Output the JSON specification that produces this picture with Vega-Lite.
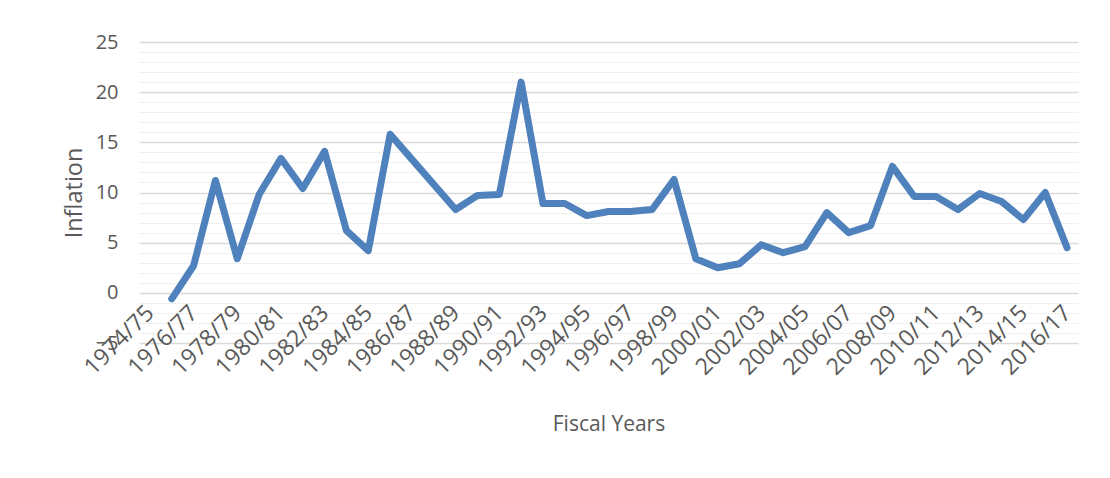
{
  "$schema": "https://vega.github.io/schema/vega-lite/v6.json",
  "width": 939,
  "height": 301,
  "autosize": {"type": "none"},
  "padding": {"left": 139, "top": 42, "right": 32, "bottom": 135},
  "background": "white",
  "config": {
    "view": {"stroke": null},
    "font": "Open Sans"
  },
  "data": {
    "values": [
      {"year": "1975/76", "inflation": -0.6},
      {"year": "1976/77", "inflation": 2.7},
      {"year": "1977/78", "inflation": 11.2},
      {"year": "1978/79", "inflation": 3.4},
      {"year": "1979/80", "inflation": 9.8},
      {"year": "1980/81", "inflation": 13.4},
      {"year": "1981/82", "inflation": 10.4},
      {"year": "1982/83", "inflation": 14.1},
      {"year": "1983/84", "inflation": 6.2},
      {"year": "1984/85", "inflation": 4.2},
      {"year": "1985/86", "inflation": 15.8},
      {"year": "1986/87", "inflation": 13.3},
      {"year": "1987/88", "inflation": 10.8},
      {"year": "1988/89", "inflation": 8.3},
      {"year": "1989/90", "inflation": 9.7},
      {"year": "1990/91", "inflation": 9.8},
      {"year": "1991/92", "inflation": 21.0},
      {"year": "1992/93", "inflation": 8.9},
      {"year": "1993/94", "inflation": 8.9},
      {"year": "1994/95", "inflation": 7.7},
      {"year": "1995/96", "inflation": 8.1},
      {"year": "1996/97", "inflation": 8.1},
      {"year": "1997/98", "inflation": 8.3},
      {"year": "1998/99", "inflation": 11.3},
      {"year": "1999/00", "inflation": 3.4},
      {"year": "2000/01", "inflation": 2.5},
      {"year": "2001/02", "inflation": 2.9},
      {"year": "2002/03", "inflation": 4.8},
      {"year": "2003/04", "inflation": 4.0},
      {"year": "2004/05", "inflation": 4.6},
      {"year": "2005/06", "inflation": 8.0},
      {"year": "2006/07", "inflation": 6.0},
      {"year": "2007/08", "inflation": 6.7},
      {"year": "2008/09", "inflation": 12.6},
      {"year": "2009/10", "inflation": 9.6},
      {"year": "2010/11", "inflation": 9.6},
      {"year": "2011/12", "inflation": 8.3},
      {"year": "2012/13", "inflation": 9.9},
      {"year": "2013/14", "inflation": 9.1},
      {"year": "2014/15", "inflation": 7.3},
      {"year": "2015/16", "inflation": 10.0},
      {"year": "2016/17", "inflation": 4.5}
    ]
  },
  "mark": {"type": "line", "color": "#4F81BD", "strokeWidth": 7, "strokeCap": "round", "strokeJoin": "round"},
  "encoding": {
    "x": {
      "field": "year",
      "type": "ordinal",
      "sort": null,
      "scale": {
        "type": "point",
        "padding": 0.5,
        "domain": ["1974/75","1975/76","1976/77","1977/78","1978/79","1979/80","1980/81","1981/82","1982/83","1983/84","1984/85","1985/86","1986/87","1987/88","1988/89","1989/90","1990/91","1991/92","1992/93","1993/94","1994/95","1995/96","1996/97","1997/98","1998/99","1999/00","2000/01","2001/02","2002/03","2003/04","2004/05","2005/06","2006/07","2007/08","2008/09","2009/10","2010/11","2011/12","2012/13","2013/14","2014/15","2015/16","2016/17"]
      },
      "axis": {
        "title": "Fiscal Years",
        "values": ["1974/75","1976/77","1978/79","1980/81","1982/83","1984/85","1986/87","1988/89","1990/91","1992/93","1994/95","1996/97","1998/99","2000/01","2002/03","2004/05","2006/07","2008/09","2010/11","2012/13","2014/15","2016/17"],
        "offset": -50,
        "domain": false,
        "ticks": false,
        "grid": false,
        "labelAngle": -45,
        "labelAlign": "right",
        "labelBaseline": "middle",
        "labelPadding": 16,
        "labelFontSize": 23,
        "labelColor": "#595959",
        "labelFont": "Open Sans",
        "labelOverlap": false,
        "titleFont": "Open Sans",
        "titleFontSize": 21,
        "titleFontWeight": "normal",
        "titleColor": "#595959",
        "titlePadding": 34
      }
    },
    "y": {
      "field": "inflation",
      "type": "quantitative",
      "scale": {"domain": [-5, 25], "nice": false, "zero": false},
      "axis": {
        "title": "Inflation",
        "values": [-5,-4,-3,-2,-1,0,1,2,3,4,5,6,7,8,9,10,11,12,13,14,15,16,17,18,19,20,21,22,23,24,25],
        "labelExpr": "datum.value % 5 === 0 ? datum.label : ''",
        "domain": false,
        "ticks": false,
        "grid": true,
        "gridColor": {"condition": {"test": "datum.value % 5 === 0", "value": "#d9d9d9"}, "value": "#f0f0f0"},
        "gridWidth": {"condition": {"test": "datum.value % 5 === 0", "value": 1.5}, "value": 1.2},
        "labelPadding": 21,
        "labelFontSize": 20,
        "labelColor": "#595959",
        "labelFont": "Open Sans",
        "labelOverlap": false,
        "titleFont": "Open Sans",
        "titleFontSize": 23.5,
        "titleFontWeight": "normal",
        "titleColor": "#595959",
        "titlePadding": 9
      }
    }
  }
}
